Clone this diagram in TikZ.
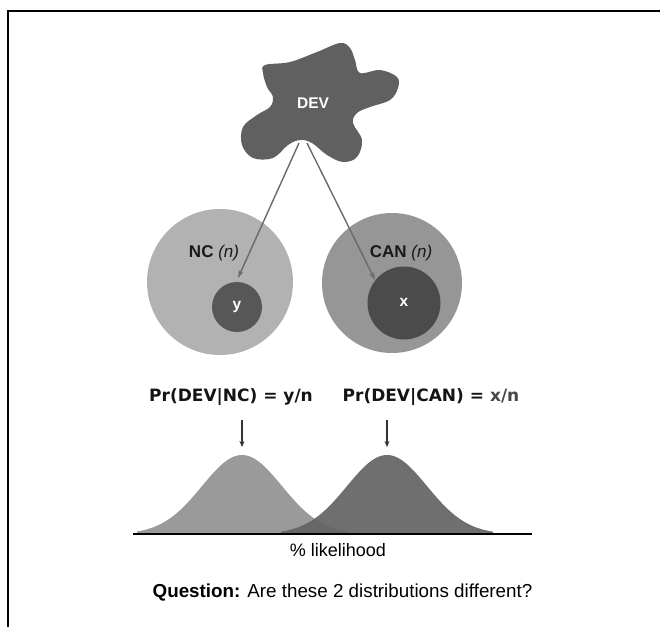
\documentclass[tikz,border=0pt]{standalone}
\usepackage{fontspec}
\setmainfont{Liberation Sans}
\newfontfamily\verdfont{DejaVu Sans}
\usetikzlibrary{arrows.meta}
\definecolor{blobc}{HTML}{606060}
\definecolor{ncc}{HTML}{B2B2B2}
\definecolor{canc}{HTML}{969696}
\definecolor{ycc}{HTML}{575757}
\definecolor{xcc}{HTML}{4B4B4B}
\definecolor{lgc}{HTML}{9A9A9A}
\definecolor{rgc}{HTML}{636363}
\definecolor{arrc}{HTML}{6A6A6A}
\begin{document}
\begin{tikzpicture}[x=1pt,y=-1pt,
  frameline/.style={line width=1.3pt,black},
  bigcirc/.style={circle,inner sep=0pt},
  whitetxt/.style={text=white,font=\fontsize{15.5}{18}\selectfont\bfseries},
  grplabel/.style={font=\fontsize{17}{20}\selectfont,text=black!90},
  prlabel/.style={font=\verdfont\fontsize{17}{20}\selectfont\bfseries,text=black!92},
  diag/.style={draw=arrc,line width=1.4pt,-{Stealth[length=8pt,width=5pt]}},
  downarr/.style={draw=black!80,line width=1.1pt,-{Stealth[length=6pt,width=5pt]}},
  plaintxt/.style={font=\fontsize{18}{22}\selectfont},
  qtxt/.style={font=\fontsize{18.8}{22}\selectfont}
]
\useasboundingbox (0,0) rectangle (660,627);
% frame
\draw[frameline] (8,627) -- (8,11) -- (660,11);
% blob
\fill[blobc] plot[smooth cycle, tension=0.6] coordinates {
 (265,65) (290,62) (317,52) (340,43) (350,48) (355,60) (360,73)
 (380,70) (397,77) (398,88) (390,100) (370,107) (357,113) (353,123)
 (362,140) (357,157) (343,162) (327,155) (312,143) (300,140) (288,145)
 (273,158) (253,158) (242,145) (243,127) (257,115) (270,107) (273,97)
 (267,87) (263,73)};
\node[whitetxt] (dev) at (313,103) {DEV};
% circles
\node[bigcirc,fill=ncc,minimum size=146pt] (nc) at (220,282) {};
\node[bigcirc,fill=canc,minimum size=140pt] (can) at (392,283) {};
\node[bigcirc,fill=ycc,minimum size=50pt] (yc) at (237,307) {};
\node[bigcirc,fill=xcc,minimum size=73pt] (xc) at (404,303) {};
\node[whitetxt] (ylab) at (237,307) {y};
\node[whitetxt] (xlab) at (404,302) {x};
\node[grplabel] (nclab) at (214,253) {\textbf{NC} \textit{(n)}};
\node[grplabel] (canlab) at (401,253) {\textbf{CAN} \textit{(n)}};
% arrows from DEV
\coordinate (devL) at (299,143);
\coordinate (devR) at (307,143);
\coordinate (ncTip) at (238,278);
\coordinate (canTip) at (375,280);
\draw[diag] (devL) -- (ncTip);
\draw[diag] (devR) -- (canTip);
% probability labels
\node[prlabel] (prl) at (231,397) {Pr(DEV|NC) = y/n};
\node[prlabel] (prr) at (431,397) {Pr(DEV|CAN) = {\color{black!72}x/n}};
\coordinate (dlTop) at (242,420);
\coordinate (dlBot) at (242,447);
\coordinate (drTop) at (387,420);
\coordinate (drBot) at (387,447);
\draw[downarr] (dlTop) -- (dlBot);
\draw[downarr] (drTop) -- (drBot);
% distributions
\fill[lgc] (137,534) -- plot[domain=137:347,samples=90,smooth] (\x,{534-79*exp(-((\x-242)^2)/3200)}) -- (347,534) -- cycle;
\fill[rgc,opacity=0.92] (281,534) -- plot[domain=281:493,samples=90,smooth] (\x,{534-79*exp(-((\x-387)^2)/3200)}) -- (493,534) -- cycle;
\coordinate (axL) at (133,534);
\coordinate (axR) at (532,534);
\draw[line width=1.2pt,black] (axL) -- (axR);
\node[plaintxt] (lik) at (338,550) {\% likelihood};
\node[qtxt] (q) at (342.5,593) {\textbf{Question:} Are these 2 distributions different?};
\end{tikzpicture}
\end{document}
